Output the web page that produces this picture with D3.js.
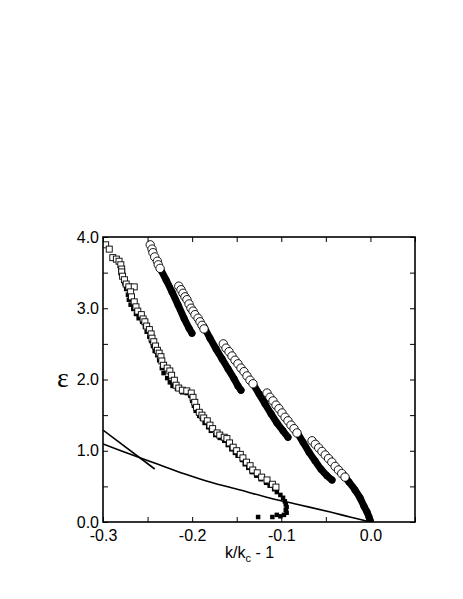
<!DOCTYPE html>
<html>
<head>
<meta charset="utf-8">
<script src="https://cdn.jsdelivr.net/npm/d3@7/dist/d3.min.js"></script>
<style>
  html, body { margin: 0; padding: 0; background: #fff; }
  svg { display: block; }
  text { font-family: "Liberation Sans", Arial, Helvetica, sans-serif; }
</style>
</head>
<body>
<svg id="chart" width="463" height="599"></svg>
<script>
// ---------- data ----------
const xTickValues = [-0.3, -0.25, -0.2, -0.15, -0.1, -0.05, 0.0, 0.05];
const xTickLabels = ["-0.3", "", "-0.2", "", "-0.1", "", "0.0", ""];
const yTickValues = [0, 0.5, 1, 1.5, 2, 2.5, 3, 3.5, 4];
const yTickLabels = ["0.0", "", "1.0", "", "2.0", "", "3.0", "", "4.0"];

// open squares
const sqOpenX = [-0.297,-0.293,-0.289,-0.285,-0.282,-0.280,-0.279,-0.279,-0.278,-0.276,-0.274,-0.271,-0.265,-0.269,-0.268,-0.265,-0.263,-0.261,-0.257,-0.255,-0.253,-0.251,-0.248,-0.246,-0.245,-0.243,-0.241,-0.239,-0.237,-0.235,-0.234,-0.232,-0.228,-0.225,-0.223,-0.220,-0.218,-0.215,-0.211,-0.206,-0.201,-0.199,-0.197,-0.195,-0.192,-0.189,-0.187,-0.183,-0.180,-0.177,-0.172,-0.169,-0.164,-0.161,-0.158,-0.154,-0.150,-0.146,-0.143,-0.139,-0.135,-0.132,-0.127,-0.122,-0.116,-0.110,-0.106];
const sqOpenY = [3.89,3.83,3.71,3.69,3.66,3.61,3.55,3.51,3.45,3.40,3.34,3.30,3.30,3.23,3.16,3.09,3.02,2.96,2.91,2.85,2.81,2.75,2.70,2.64,2.58,2.53,2.47,2.41,2.37,2.32,2.26,2.20,2.16,2.12,2.06,1.99,1.92,1.88,1.85,1.84,1.81,1.75,1.68,1.61,1.54,1.50,1.46,1.42,1.36,1.31,1.25,1.22,1.19,1.17,1.11,1.05,1.00,0.95,0.90,0.84,0.79,0.73,0.69,0.63,0.59,0.53,0.49];

// filled squares
const sqFillX = [-0.276,-0.274,-0.272,-0.271,-0.269,-0.266,-0.263,-0.260,-0.256,-0.253,-0.251,-0.248,-0.246,-0.244,-0.242,-0.239,-0.237,-0.234,-0.232,-0.228,-0.225,-0.222,-0.217,-0.211,-0.206,-0.202,-0.200,-0.198,-0.196,-0.192,-0.189,-0.186,-0.182,-0.179,-0.174,-0.169,-0.164,-0.160,-0.156,-0.152,-0.149,-0.144,-0.141,-0.137,-0.133,-0.128,-0.123,-0.117,-0.113,-0.108,-0.105,-0.101,-0.098,-0.096,-0.095,-0.094,-0.095,-0.094,-0.097,-0.101,-0.105,-0.110,-0.126];
const sqFillY = [3.35,3.27,3.19,3.12,3.05,2.99,2.92,2.86,2.81,2.74,2.67,2.60,2.54,2.47,2.40,2.34,2.27,2.16,2.09,2.02,1.96,1.91,1.87,1.82,1.81,1.77,1.70,1.63,1.56,1.49,1.45,1.39,1.33,1.28,1.22,1.18,1.14,1.08,1.02,0.97,0.93,0.87,0.81,0.76,0.70,0.65,0.60,0.55,0.51,0.46,0.42,0.38,0.34,0.29,0.25,0.21,0.17,0.13,0.10,0.08,0.10,0.07,0.07];

// open circles, five runs
const circOpenAX = [-0.247,-0.245,-0.244,-0.242,-0.239,-0.238,-0.236];
const circOpenAY = [3.89,3.83,3.78,3.72,3.66,3.61,3.56];
const circOpenBX = [-0.215,-0.2125,-0.2103,-0.208,-0.2058,-0.2035,-0.2013,-0.199,-0.1968,-0.1934,-0.1912,-0.1889,-0.1867];
const circOpenBY = [3.31,3.26,3.21,3.16,3.12,3.06,3.00,2.96,2.91,2.86,2.81,2.76,2.71];
const circOpenCX = [-0.165,-0.162,-0.1586,-0.1553,-0.1519,-0.1486,-0.1452,-0.1418,-0.1385,-0.1351,-0.1317];
const circOpenCY = [2.50,2.44,2.39,2.33,2.27,2.22,2.16,2.11,2.05,1.99,1.94];
const circOpenDX = [-0.116,-0.1127,-0.1093,-0.1059,-0.1026,-0.0992,-0.0958,-0.0925,-0.0891,-0.0857,-0.0824];
const circOpenDY = [1.81,1.75,1.70,1.64,1.59,1.53,1.47,1.42,1.36,1.31,1.25];
const circOpenEX = [-0.0655,-0.0618,-0.058,-0.0544,-0.0507,-0.047,-0.0433,-0.0396,-0.0359,-0.0322,-0.0285];
const circOpenEY = [1.14,1.09,1.04,0.99,0.94,0.89,0.84,0.78,0.73,0.68,0.63];

// filled circles, five runs
const circFillAX = [-0.236,-0.2293,-0.2226,-0.2159,-0.2091,-0.2035,-0.2002];
const circFillAY = [3.56,3.40,3.23,3.05,2.86,2.72,2.65];
const circFillBX = [-0.1867,-0.180,-0.1732,-0.1665,-0.1598,-0.153,-0.1486,-0.1452];
const circFillBY = [2.74,2.58,2.43,2.29,2.15,2.01,1.91,1.85];
const circFillCX = [-0.1317,-0.125,-0.1183,-0.1115,-0.1048,-0.0981,-0.0925];
const circFillCY = [1.94,1.80,1.66,1.52,1.39,1.28,1.19];
const circFillDX = [-0.0824,-0.0756,-0.0689,-0.0622,-0.0554,-0.0487,-0.0431];
const circFillDY = [1.26,1.12,0.98,0.86,0.74,0.65,0.59];
const circFillEX = [-0.0308,-0.024,-0.0173,-0.0117,-0.0072,-0.0038,-0.0016,0.0];
const circFillEY = [0.67,0.56,0.45,0.34,0.22,0.14,0.07,0.01];

// theory curve and straight line
const curveX = [-0.300,-0.270,-0.239,-0.208,-0.180,-0.146,-0.113,-0.079,-0.045,-0.023,0.0];
const curveY = [1.095,0.954,0.814,0.674,0.561,0.449,0.337,0.239,0.140,0.070,0.0];
const lineX = [-0.300,-0.242];
const lineY = [1.29,0.744];

// ---------- chart ----------
const svg = d3.select("#chart");
const x = d3.scaleLinear().domain([-0.3, 0.05]).range([103, 415]);
const y = d3.scaleLinear().domain([0, 4]).range([522, 237]);
const zip = (xs, ys) => xs.map((v, i) => [v, ys[i]]);

const plot = svg.append("g");
plot.append("defs").append("clipPath").attr("id", "clip")
  .append("rect").attr("x", 103).attr("y", 237).attr("width", 312).attr("height", 285);
const g = plot.append("g").attr("clip-path", "url(#clip)");

const line = d3.line().x(d => x(d[0])).y(d => y(d[1]));
const smooth = d3.line().x(d => x(d[0])).y(d => y(d[1])).curve(d3.curveCatmullRom);

// lines
g.append("path").datum(zip(curveX, curveY)).attr("d", smooth)
  .attr("fill", "none").attr("stroke", "#000").attr("stroke-width", 1.6);
g.append("path").datum(zip(lineX, lineY)).attr("d", line)
  .attr("fill", "none").attr("stroke", "#000").attr("stroke-width", 1.6);

// filled squares
const sqF = 4.5;
g.selectAll("rect.sf").data(zip(sqFillX, sqFillY)).join("rect").attr("class", "sf")
  .attr("x", d => x(d[0]) - sqF / 2).attr("y", d => y(d[1]) - sqF / 2)
  .attr("width", sqF).attr("height", sqF).attr("fill", "#000");

// open squares
const sqO = 6;
g.selectAll("rect.so").data(zip(sqOpenX, sqOpenY)).join("rect").attr("class", "so")
  .attr("x", d => x(d[0]) - sqO / 2).attr("y", d => y(d[1]) - sqO / 2)
  .attr("width", sqO).attr("height", sqO)
  .attr("fill", "#fff").attr("stroke", "#000").attr("stroke-width", 0.9);

// filled circle runs: dense filled markers joined into a thick band
const fillRuns = [[circFillAX, circFillAY], [circFillBX, circFillBY], [circFillCX, circFillCY], [circFillDX, circFillDY], [circFillEX, circFillEY]];
fillRuns.forEach(([xs, ys]) => {
  const pts = zip(xs, ys);
  g.append("path").datum(pts).attr("d", smooth)
    .attr("fill", "none").attr("stroke", "#000").attr("stroke-width", 7)
    .attr("stroke-linecap", "round").attr("stroke-linejoin", "round");
  g.selectAll(null).data(pts).join("circle")
    .attr("cx", d => x(d[0])).attr("cy", d => y(d[1])).attr("r", 3.5).attr("fill", "#000");
});

// open circle runs
const openRuns = [[circOpenAX, circOpenAY], [circOpenBX, circOpenBY], [circOpenCX, circOpenCY], [circOpenDX, circOpenDY], [circOpenEX, circOpenEY]];
openRuns.forEach(([xs, ys]) => {
  g.selectAll(null).data(zip(xs, ys)).join("circle")
    .attr("cx", d => x(d[0])).attr("cy", d => y(d[1])).attr("r", 4.2)
    .attr("fill", "#fff").attr("stroke", "#000").attr("stroke-width", 0.9);
});

// axes (inward ticks)
const fmtX = (d, i) => xTickLabels[i];
const fmtY = (d, i) => yTickLabels[i];
const axB = plot.append("g").attr("transform", "translate(0,522)")
  .call(d3.axisBottom(x).tickValues(xTickValues).tickFormat(fmtX).tickSize(-5).tickPadding(8));
const axT = plot.append("g").attr("transform", "translate(0,237)")
  .call(d3.axisTop(x).tickValues(xTickValues).tickFormat("").tickSize(-5));
const axL = plot.append("g").attr("transform", "translate(103,0)")
  .call(d3.axisLeft(y).tickValues(yTickValues).tickFormat(fmtY).tickSize(-5).tickPadding(4));
const axR = plot.append("g").attr("transform", "translate(415,0)")
  .call(d3.axisRight(y).tickValues(yTickValues).tickFormat("").tickSize(-5));
[axB, axT, axL, axR].forEach(a => {
  a.select(".domain").remove();
  a.selectAll(".tick line").attr("stroke", "#000").attr("stroke-width", 1);
  a.selectAll(".tick text").attr("fill", "#000")
    .style("font-family", "'Liberation Sans', Arial, sans-serif").style("font-size", "16px");
});

// frame
plot.append("rect").attr("x", 103).attr("y", 237).attr("width", 312).attr("height", 285)
  .attr("fill", "none").attr("stroke", "#000").attr("stroke-width", 1.6);

// axis titles
const xt = svg.append("text").attr("x", 225).attr("y", 558)
  .style("font-size", "16px").attr("fill", "#000");
xt.append("tspan").text("k/k");
xt.append("tspan").attr("dy", 4).style("font-size", "11px").text("c");
xt.append("tspan").attr("dy", -4).text(" - 1");

svg.append("text").attr("x", 63).attr("y", 387).attr("text-anchor", "middle")
  .style("font-family", "'Liberation Serif', 'Times New Roman', serif")
  .style("font-size", "28px").attr("fill", "#000").text("ε");
</script>
</body>
</html>
